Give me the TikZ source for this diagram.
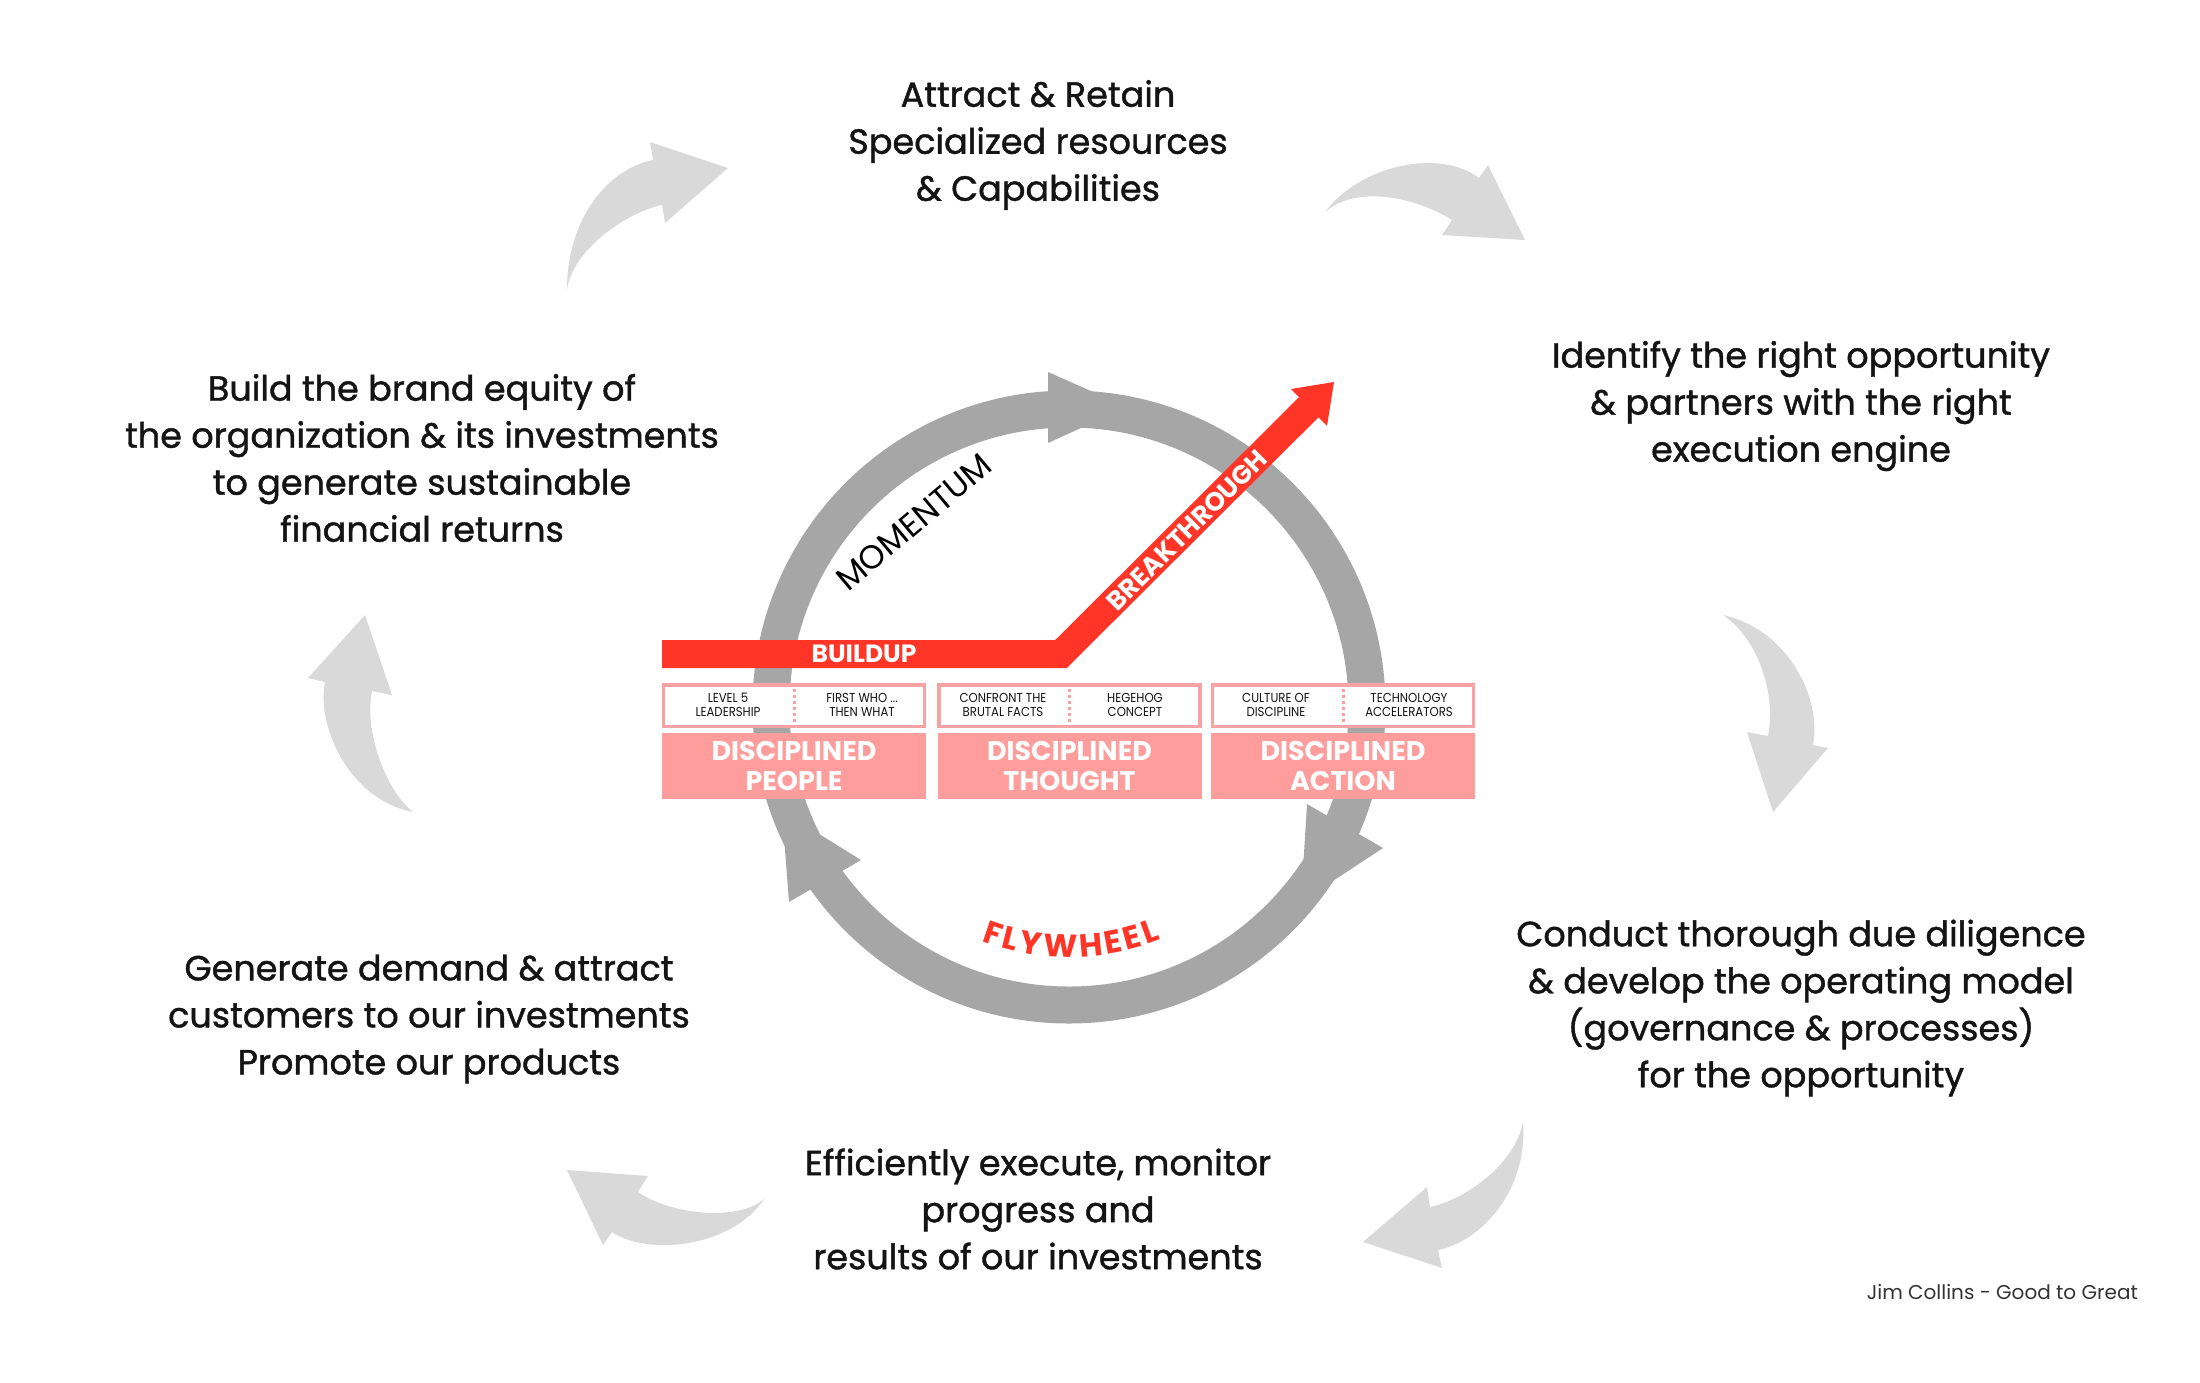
\documentclass[tikz,border=0pt]{standalone}
\usepackage{fontspec}
\setmainfont{Poppins}
\newfontfamily\stagefont[FakeBold=1.2]{Poppins}
\newfontfamily\narrowfont[FakeStretch=0.9]{Poppins}
\usepackage{tikz}
\usetikzlibrary{decorations.text}

\definecolor{ringgray}{HTML}{A6A6A6}
\definecolor{swooshgray}{HTML}{D9D9D9}
\definecolor{rred}{HTML}{FF3527}
\definecolor{discpink}{HTML}{FF9C9C}
\definecolor{framepink}{HTML}{F7A3A3}
\definecolor{ink}{HTML}{141414}
\definecolor{creditgray}{HTML}{333333}

\newcommand{\flyfont}{\fontsize{32}{32}\selectfont\bfseries}

\tikzset{
  stagetext/.style={align=center, inner sep=0pt, text=ink, font=\stagefont\fontsize{35}{47}\selectfont},
  swoosh/.style={fill=swooshgray, draw=none},
  ring/.style={draw=ringgray, line width=37pt},
  redshaft/.style={draw=rred, line width=28pt, miter limit=4},
  bartext/.style={inner sep=0pt, text=white, font=\bfseries\fontsize{25}{25}\selectfont},
  momentum/.style={inner sep=0pt, text=black, font=\fontsize{33}{33}\selectfont},
  subframe/.style={draw=framepink, line width=3.5pt, fill=white, minimum width=261pt, minimum height=41.5pt, inner sep=0pt},
  divider/.style={draw=framepink, line width=3pt, dash pattern=on 3pt off 3pt},
  subtext/.style={align=center, inner sep=0pt, text=ink, font=\narrowfont\fontsize{13}{14}\selectfont},
  discbox/.style={fill=discpink, minimum width=264pt, minimum height=66pt, inner sep=0pt, align=center, text=white, font=\bfseries\fontsize{27}{30}\selectfont},
  credit/.style={inner sep=0pt, text=creditgray, font=\fontsize{20}{20}\selectfont}
}

\begin{document}
\begin{tikzpicture}[x=1pt, y=-1pt]
  \useasboundingbox (0,0) rectangle (2200,1382);

  % outer cycle of light arrows
  \fill[swoosh] (567,290) .. controls (567,218) and (608,169) .. (653,160) -- (650,142) -- (728,168) -- (665,223) -- (662,205) .. controls (627,212) and (572,250) .. (567,290) -- cycle;
  \fill[swoosh] (1325,212) .. controls (1360,165) and (1440,148) .. (1479,178) -- (1488,165) -- (1525,240) -- (1442,235) -- (1452,220) .. controls (1423,201) and (1360,182) .. (1325,212) -- cycle;
  \fill[swoosh] (1723,615) .. controls (1790,630) and (1822,701) .. (1813,745) -- (1828,748) -- (1773,812) -- (1747,732) -- (1768,736) .. controls (1776,697) and (1760,640) .. (1723,615) -- cycle;
  \fill[swoosh] (1523,1122) .. controls (1528,1190) and (1482,1241) .. (1438,1250) -- (1442,1268) -- (1363,1242) -- (1427,1187) -- (1430,1207) .. controls (1464,1200) and (1515,1165) .. (1523,1122) -- cycle;
  \fill[swoosh] (765,1198) .. controls (740,1222) and (671,1215) .. (638,1192) -- (648,1176) -- (567,1170) -- (603,1245) -- (612,1232) .. controls (645,1255) and (730,1250) .. (765,1198) -- cycle;
  \fill[swoosh] (413,812) .. controls (350,800) and (316,727) .. (325,682) -- (308,678) -- (365,615) -- (392,695) -- (372,691) .. controls (364,730) and (385,790) .. (413,812) -- cycle;

  \node[stagetext] (attract) at (1038,145) {Attract \& Retain\\Specialized resources\\\& Capabilities};
  \node[stagetext] (identify) at (1801,406) {Identify the right opportunity\\\& partners with the right\\execution engine};
  \node[stagetext] (conduct) at (1801,1008) {Conduct thorough due diligence\\\& develop the operating model\\(governance \& processes)\\for the opportunity};
  \node[stagetext] (execute) at (1038,1209) {Efficiently execute, monitor\\progress and\\results of our investments};
  \node[stagetext] (demand) at (429,1019) {Generate demand \& attract\\customers to our investments\\Promote our products};
  \node[stagetext] (brand) at (422,458) {Build the brand equity of\\the organization \& its investments\\to generate sustainable\\financial returns};

  % flywheel
  \coordinate (hub) at (1069,707);
  \draw[ring] (hub) circle[radius=298];
  \fill[ringgray] (1048,372) -- (1127,407) -- (1048,443) -- cycle;
  \fill[ringgray] (1307,804) -- (1383,848) -- (1301,902) -- cycle;
  \fill[ringgray] (789,902) -- (861,860) -- (782,811) -- cycle;
  \node[momentum, rotate=40] (momentum) at (914,522) {MOMENTUM};
  \path[decorate, decoration={text along path, text={|\flyfont|FLYWHEEL}, text align={fit to path}, text color=rred}]
    (hub) ++(110.6:250) arc[start angle=110.6, end angle=68.4, radius=250];

  % buildup and breakthrough
  \coordinate (buildstart) at (662,654);
  \coordinate (bend) at (1061,654);
  \coordinate (headbase) at (1309,407);
  \draw[redshaft] (buildstart) -- (bend) -- (headbase);
  \fill[rred] (1291,389) -- (1334,382) -- (1327,426) -- cycle;
  \node[bartext] (buildup) at (864,654) {BUILDUP};
  \node[bartext, rotate=45, font=\bfseries\fontsize{26}{26}\selectfont] (breakthrough) at (1187,530) {BREAKTHROUGH};

  % disciplines
  \node[subframe] (peoplesub) at (794,705.5) {};
  \node[subframe] (thoughtsub) at (1069.5,705.5) {};
  \node[subframe] (actionsub) at (1343,705.5) {};
  \draw[divider] (peoplesub.north) -- (peoplesub.south);
  \draw[divider] (thoughtsub.north) -- (thoughtsub.south);
  \draw[divider] (actionsub.north) -- (actionsub.south);
  \node[subtext] (level) at (728,705) {LEVEL 5\\LEADERSHIP};
  \node[subtext] (firstwho) at (862,705) {FIRST WHO ...\\THEN WHAT};
  \node[subtext] (brutal) at (1003,705) {CONFRONT THE\\BRUTAL FACTS};
  \node[subtext] (hegehog) at (1135,705) {HEGEHOG\\CONCEPT};
  \node[subtext] (culture) at (1276,705) {CULTURE OF\\DISCIPLINE};
  \node[subtext] (techacc) at (1409,705) {TECHNOLOGY\\ACCELERATORS};
  \node[discbox] (people) at (794,766) {DISCIPLINED\\PEOPLE};
  \node[discbox] (thought) at (1069.5,766) {DISCIPLINED\\THOUGHT};
  \node[discbox] (action) at (1343,766) {DISCIPLINED\\ACTION};

  \node[credit, anchor=east] (source) at (2138,1292) {Jim Collins - Good to Great};
\end{tikzpicture}
\end{document}
